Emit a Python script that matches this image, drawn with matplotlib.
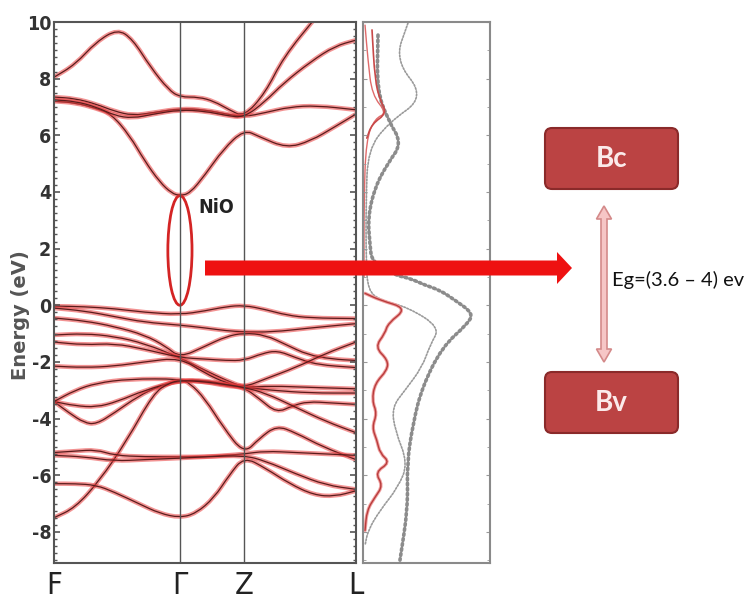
import numpy as np
import matplotlib
matplotlib.use('Agg')
import matplotlib.pyplot as plt
import matplotlib.patches as mpatches
from matplotlib.path import Path
from matplotlib.ticker import MultipleLocator

# High-symmetry points along the k-path
K_LABELS = ['F', 'Γ', 'Z', 'L']
K_POS = [0.0, 0.417, 0.629, 1.0]

# Conduction bands, (k, E) in eV
CB1 = [(0, 8.05), (0.07, 8.5), (0.14, 9.3), (0.21, 9.75), (0.26, 9.4), (0.32, 8.4), (0.38, 7.6),
       (0.417, 7.35), (0.48, 7.35), (0.53, 7.2), (0.58, 6.9), (0.629, 6.65), (0.70, 7.5),
       (0.76, 8.76), (0.87, 10.2)]
CB2 = [(0, 7.2), (0.07, 7.15), (0.14, 6.95), (0.19, 6.75), (0.25, 6.0), (0.30, 5.1), (0.35, 4.35),
       (0.39, 3.95), (0.417, 3.87), (0.45, 3.95), (0.50, 4.6), (0.56, 5.5), (0.629, 6.2),
       (0.68, 5.95), (0.77, 5.55), (0.85, 5.8), (0.93, 6.3), (1.0, 6.75)]
CB3 = [(0, 7.35), (0.07, 7.3), (0.14, 7.1), (0.2, 6.85), (0.26, 6.7), (0.33, 6.8), (0.417, 6.95),
       (0.5, 6.9), (0.57, 6.75), (0.629, 6.65), (0.70, 6.8), (0.78, 7.0), (0.87, 7.05), (1.0, 6.9)]
CB4 = [(0, 7.25), (0.07, 7.2), (0.14, 7.0), (0.2, 6.7), (0.26, 6.6), (0.33, 6.75), (0.417, 6.9),
       (0.5, 6.85), (0.57, 6.7), (0.629, 6.62), (0.70, 7.2), (0.76, 7.84), (0.85, 8.6),
       (0.93, 9.15), (1.0, 9.36)]

# Valence bands
VB1 = [(0, -0.03), (0.1, -0.05), (0.2, -0.12), (0.3, -0.25), (0.417, -0.33), (0.5, -0.2),
       (0.57, -0.05), (0.629, 0.0), (0.7, -0.15), (0.77, -0.35), (0.85, -0.45), (1.0, -0.47)]
VB2 = [(0, -0.1), (0.1, -0.2), (0.2, -0.4), (0.3, -0.6), (0.417, -0.7), (0.5, -0.8), (0.57, -0.9),
       (0.629, -0.94), (0.72, -0.95), (0.85, -0.8), (1.0, -0.65)]
VB3 = [(0, -0.45), (0.1, -0.55), (0.2, -0.75), (0.3, -1.05), (0.37, -1.45), (0.417, -1.85),
       (0.5, -1.45), (0.57, -1.1), (0.629, -0.98), (0.7, -1.05), (0.77, -1.4), (0.84, -1.75),
       (0.92, -1.9), (1.0, -1.95)]
VB4 = [(0, -1.05), (0.1, -1.0), (0.2, -1.1), (0.3, -1.35), (0.417, -1.85), (0.5, -2.3),
       (0.57, -2.65), (0.629, -2.9), (0.72, -2.85), (0.85, -2.9), (1.0, -2.95)]
VB5 = [(0, -1.3), (0.1, -1.4), (0.2, -1.35), (0.3, -1.55), (0.417, -1.85), (0.5, -1.9),
       (0.57, -1.95), (0.629, -1.95), (0.69, -1.7), (0.74, -1.6), (0.8, -1.85), (0.87, -2.1),
       (1.0, -2.2)]
VB6 = [(0, -2.15), (0.1, -2.2), (0.2, -2.15), (0.3, -2.0), (0.417, -1.85), (0.5, -2.4),
       (0.57, -2.75), (0.629, -2.9), (0.7, -2.6), (0.8, -2.2), (0.9, -1.7), (1.0, -1.3)]
VB7 = [(0, -3.4), (0.05, -3.8), (0.1, -4.15), (0.14, -4.2), (0.2, -3.8), (0.28, -3.2),
       (0.35, -2.85), (0.417, -2.65), (0.5, -2.7), (0.57, -2.85), (0.629, -2.9), (0.68, -3.3),
       (0.737, -3.8), (0.79, -3.55), (0.84, -3.4), (0.92, -3.45), (1.0, -3.5)]
VB8 = [(0, -3.4), (0.07, -3.55), (0.14, -3.6), (0.21, -3.4), (0.3, -3.0), (0.417, -2.65),
       (0.5, -2.65), (0.57, -2.8), (0.629, -2.9), (0.72, -3.0), (0.85, -3.1), (1.0, -3.1)]
VB9 = [(0, -3.4), (0.07, -3.0), (0.14, -2.75), (0.25, -2.6), (0.417, -2.6), (0.45, -2.75),
       (0.5, -3.3), (0.56, -4.3), (0.629, -5.25), (0.68, -4.7), (0.737, -4.25), (0.8, -4.5),
       (0.89, -5.0), (1.0, -5.45)]
VB10 = [(0, -7.5), (0.07, -7.15), (0.15, -6.2), (0.24, -4.8), (0.33, -3.1), (0.38, -2.75),
        (0.417, -2.65), (0.5, -2.7), (0.57, -2.8), (0.629, -2.9), (0.7, -3.1), (0.8, -3.6),
        (0.9, -4.1), (1.0, -4.5)]
VB11 = [(0, -5.2), (0.07, -5.15), (0.14, -5.1), (0.2, -5.3), (0.3, -5.35), (0.417, -5.35),
        (0.5, -5.35), (0.57, -5.3), (0.629, -5.25), (0.7, -5.15), (0.8, -5.2), (0.9, -5.25),
        (1.0, -5.3)]
VB12 = [(0, -5.3), (0.1, -5.35), (0.2, -5.5), (0.3, -5.45), (0.417, -5.4), (0.5, -5.35),
        (0.629, -5.3), (0.7, -5.5), (0.8, -5.95), (0.9, -6.35), (1.0, -6.5)]
VB13 = [(0, -6.3), (0.07, -6.3), (0.14, -6.35), (0.2, -6.6), (0.28, -7.0), (0.35, -7.35),
        (0.417, -7.5), (0.47, -7.35), (0.53, -6.8), (0.58, -6.0), (0.629, -5.35), (0.7, -5.75),
        (0.78, -6.3), (0.86, -6.7), (0.93, -6.75), (1.0, -6.55)]

BANDS = [CB1, CB2, CB3, CB4, VB1, VB2, VB3, VB4, VB5, VB6, VB7, VB8, VB9, VB10,
         VB11, VB12, VB13]

# Density of states, (dos, E)
DOS_TOTAL = [(0.354, 9.96), (0.252, 8.66), (0.488, 7.35), (0.197, 6.43), (0.039, 5.48),
             (0.024, 3.71), (0.024, 1.59), (0.039, 0.53), (0.134, 0.18), (0.354, -0.07),
             (0.606, -0.78), (0.528, -1.41), (0.465, -2.19), (0.331, -3.0), (0.228, -3.6),
             (0.252, -4.42), (0.354, -5.58), (0.276, -6.43), (0.134, -7.24), (0.039, -7.95),
             (0.016, -8.48)]
DOS_NI = [(0.118, 9.54), (0.110, 7.6), (0.197, 6.54), (0.307, 5.72), (0.197, 5.02),
          (0.094, 4.17), (0.039, 3.11), (0.055, 2.12), (0.071, 1.52), (0.252, 1.06),
          (0.37, 0.95), (0.488, 0.71), (0.606, 0.53), (0.724, 0.18), (0.866, -0.28),
          (0.827, -0.64), (0.622, -1.48), (0.465, -2.9), (0.394, -4.17), (0.346, -5.58),
          (0.354, -7.14), (0.291, -9.0)]
DOS_O_UP1 = [(0.016, 9.89), (0.039, 8.66), (0.071, 7.42), (0.189, 6.78), (0.094, 6.6),
             (0.024, 5.83), (0.008, 3.71), (0.008, 1.0)]
DOS_O_UP2 = [(0.071, 9.72), (0.094, 7.95), (0.134, 7.24), (0.189, 6.78), (0.07, 6.4),
             (0.03, 5.9)]
DOS_O_VB = [(0.016, 0.42), (0.134, 0.18), (0.346, -0.11), (0.197, -0.64), (0.173, -0.99),
            (0.094, -1.48), (0.197, -1.94), (0.189, -2.3), (0.094, -2.76), (0.071, -3.36),
            (0.110, -3.82), (0.071, -4.31), (0.110, -4.77), (0.134, -5.23), (0.213, -5.55),
            (0.094, -5.9), (0.157, -6.36), (0.094, -6.78), (0.031, -7.24), (0.016, -7.95)]

GAP_TOP = 3.87
GAP_BOTTOM = 0.0
YMIN, YMAX = -9.1, 10.0


def smooth_path(pts):
    # quadratic spline through the midpoints of consecutive points
    pts = np.asarray(pts, float)
    verts = [pts[0], (pts[0] + pts[1]) / 2]
    codes = [Path.MOVETO, Path.LINETO]
    for i in range(1, len(pts) - 1):
        verts += [pts[i], (pts[i] + pts[i + 1]) / 2]
        codes += [Path.CURVE3, Path.CURVE3]
    verts.append(pts[-1])
    codes.append(Path.LINETO)
    return Path(verts, codes)


def draw_curve(ax, pts, **kw):
    ax.add_patch(mpatches.PathPatch(smooth_path(pts), fill=False, capstyle='round', **kw))


cond = dict(family='DejaVu Sans', stretch='condensed')

fig = plt.figure(figsize=(7.51, 6.02), dpi=100)
W, H = 751, 602

# band structure panel
ax = fig.add_axes([54 / W, 1 - 563 / H, 302 / W, 541 / H])
for band in BANDS:
    draw_curve(ax, band, edgecolor='#e83a3a', lw=3.2, alpha=0.55)
    draw_curve(ax, band, edgecolor='#5a1c1c', lw=0.9)
for k in K_POS[1:3]:
    ax.axvline(k, color='#555555', lw=1.0)
ax.set_xlim(0, 1)
ax.set_ylim(YMIN, YMAX)
ax.set_xticks(K_POS)
ax.set_xticklabels(K_LABELS, fontsize=22, color='#222222', **cond)
ax.tick_params(axis='x', length=0, pad=6)
ax.set_yticks(np.arange(-8, 11, 2))
ax.set_yticklabels([str(v) for v in range(-8, 11, 2)], fontsize=14,
                   fontweight='bold', color='#333333', **cond)
ax.yaxis.set_minor_locator(MultipleLocator(0.25))
ax.tick_params(axis='y', which='both', direction='in', left=True, right=True, pad=2,
               color='#555555')
ax.tick_params(axis='y', which='major', length=4, width=1.2)
ax.tick_params(axis='y', which='minor', length=2.5, width=1.0)
for s in ax.spines.values():
    s.set_color('#555555')
    s.set_linewidth(1.5)
fig.text(21 / W, 1 - 315 / H, 'Energy (eV)', rotation=90, ha='center', va='center',
         fontsize=14, fontweight='bold', color='#555555')

# band gap marker at Γ
gap = mpatches.Ellipse((K_POS[1], (GAP_TOP + GAP_BOTTOM) / 2), width=0.08,
                       height=GAP_TOP - GAP_BOTTOM, fill=False, edgecolor='#d42424', lw=2)
ax.add_patch(gap)
ax.text(0.477, 3.45, 'NiO', fontsize=14, fontweight='bold', color='#222222',
        va='center', ha='left', **cond)

# density of states panel
ax2 = fig.add_axes([363 / W, 1 - 563 / H, 127 / W, 541 / H])
draw_curve(ax2, DOS_TOTAL, edgecolor='#9a9a9a', lw=1.2, linestyle=(0, (1, 1)))
draw_curve(ax2, DOS_NI, edgecolor='#8c8c8c', lw=2.6, linestyle=(0, (0.5, 0.9)))
draw_curve(ax2, DOS_O_UP1, edgecolor='#e06a6a', lw=1.0)
draw_curve(ax2, DOS_O_UP2, edgecolor='#c84848', lw=1.2)
draw_curve(ax2, DOS_O_VB, edgecolor='#f0a0a0', lw=2.4)
draw_curve(ax2, DOS_O_VB, edgecolor='#b83c3c', lw=1.0)
ax2.set_xlim(0, 1)
ax2.set_ylim(YMIN, YMAX)
ax2.set_xticks([])
ax2.set_yticks(np.arange(-8, 11, 2))
ax2.yaxis.set_minor_locator(MultipleLocator(1))
ax2.tick_params(axis='y', which='both', direction='in', left=True, right=True,
                labelleft=False, color='#999999')
ax2.tick_params(axis='y', which='major', length=3)
ax2.tick_params(axis='y', which='minor', length=2)
for s in ax2.spines.values():
    s.set_color('#8a8a8a')
    s.set_linewidth(1.5)

# overlay in pixel units for the schematic on the right
ov = fig.add_axes([0, 0, 1, 1])
ov.set_xlim(0, W)
ov.set_ylim(H, 0)
ov.axis('off')
ov.patch.set_alpha(0)

ov.add_patch(mpatches.FancyArrow(205, 268, 352, 0, width=15, head_width=32, head_length=15,
                                 length_includes_head=False, color='#ee1111', lw=0))

for y0, label in [(128, 'Bc'), (372, 'Bv')]:
    box = mpatches.FancyBboxPatch((545, y0), 133, 61, boxstyle='round,pad=0,rounding_size=7',
                                  facecolor='#bb4343', edgecolor='#8a2a2a', lw=1.5)
    ov.add_patch(box)
    ov.text(611.5, y0 + 31, label, fontsize=20, family='Lato', fontweight='bold',
            color='#fbeaea', ha='center', va='center')

# double-headed gap arrow
xc, top, bot = 604, 206, 362
sw, hw, hl = 3, 7.5, 13
arrow_pts = [(xc, top), (xc + hw, top + hl), (xc + sw, top + hl), (xc + sw, bot - hl),
             (xc + hw, bot - hl), (xc, bot), (xc - hw, bot - hl), (xc - sw, bot - hl),
             (xc - sw, top + hl), (xc - hw, top + hl)]
ov.add_patch(mpatches.Polygon(arrow_pts, closed=True, facecolor='#f6c6c6',
                              edgecolor='#d48a8a', lw=1.2))
ov.text(612, 280, 'Eg=(3.6 – 4) ev', fontsize=14.5, family='Lato', color='#111111',
        ha='left', va='center')

fig.savefig('out.png', dpi=100)
